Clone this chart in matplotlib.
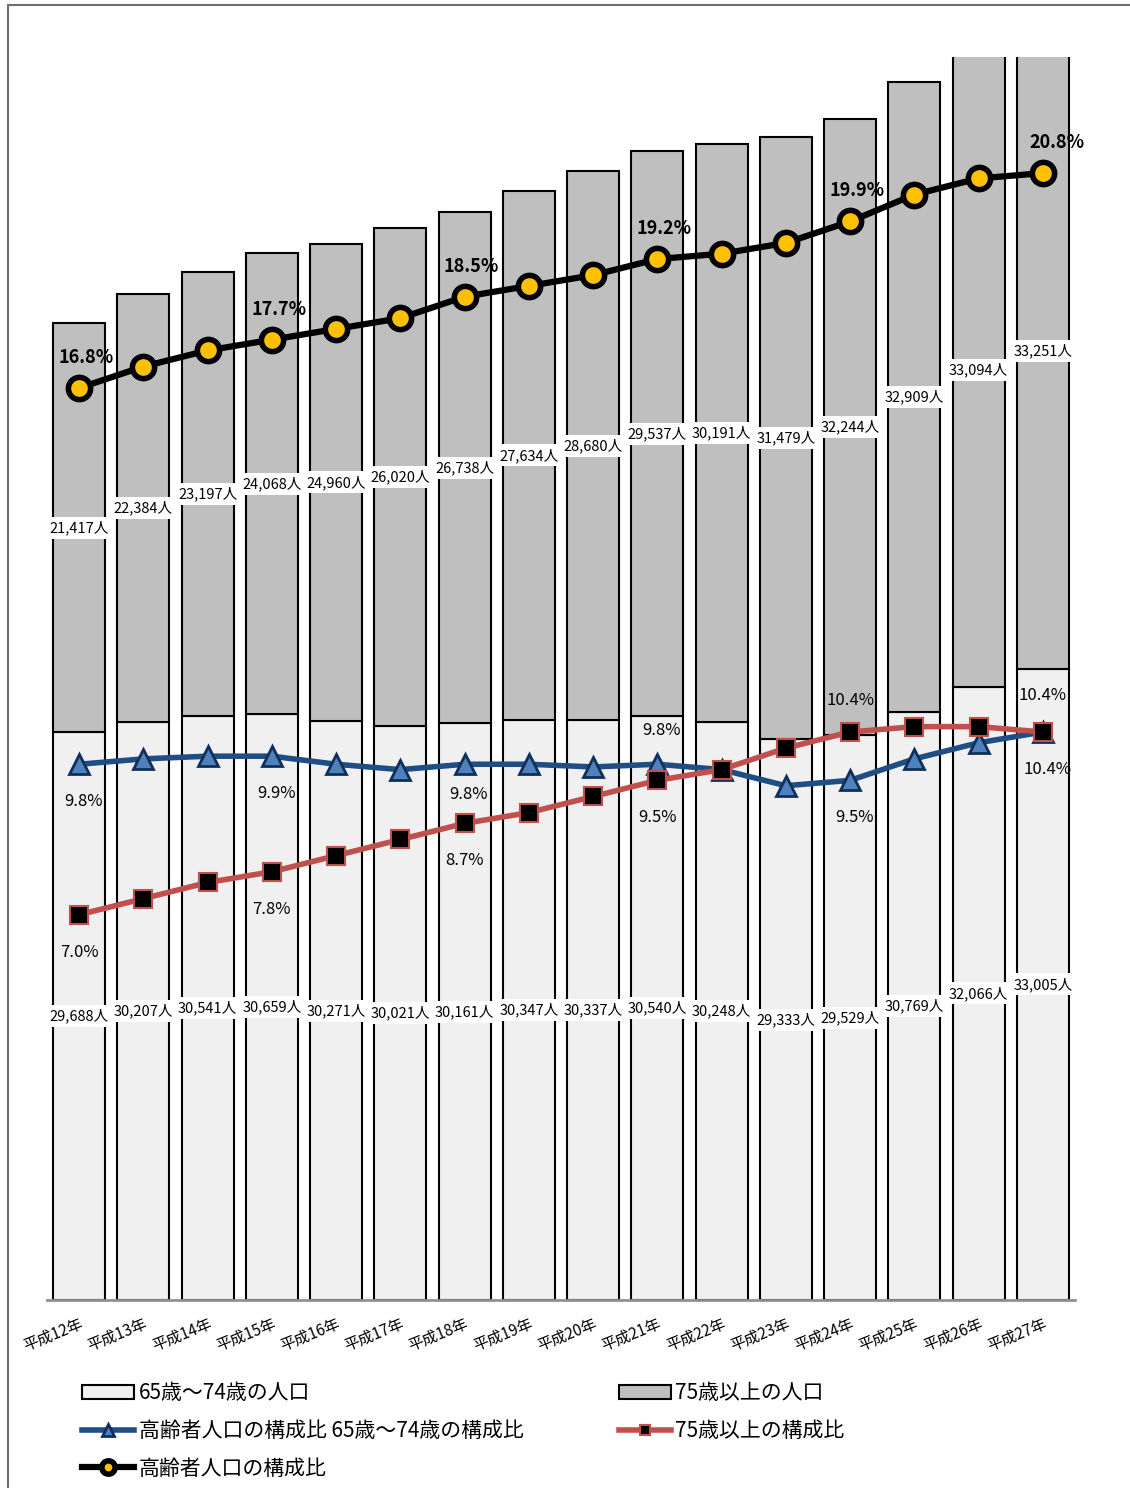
import matplotlib
matplotlib.use("Agg")
import matplotlib.pyplot as plt
from matplotlib.patches import Rectangle
import numpy as np

plt.rcParams['font.family'] = ['Noto Sans CJK JP', 'DejaVu Sans']

years = ["平成12年", "平成13年", "平成14年", "平成15年", "平成16年", "平成17年",
         "平成18年", "平成19年", "平成20年", "平成21年", "平成22年", "平成23年",
         "平成24年", "平成25年", "平成26年", "平成27年"]
pop_65_74 = [29688, 30207, 30541, 30659, 30271, 30021, 30161, 30347,
             30337, 30540, 30248, 29333, 29529, 30769, 32066, 33005]
pop_75_over = [21417, 22384, 23197, 24068, 24960, 26020, 26738, 27634,
               28680, 29537, 30191, 31479, 32244, 32909, 33094, 33251]
ratio_65_74 = [9.8, 9.9, 9.95, 9.95, 9.8, 9.7, 9.8, 9.8,
               9.75, 9.8, 9.7, 9.4, 9.5, 9.9, 10.2, 10.4]
ratio_75_over = [7.0, 7.3, 7.6, 7.8, 8.1, 8.4, 8.7, 8.9,
                 9.2, 9.5, 9.7, 10.1, 10.4, 10.5, 10.5, 10.4]
ratio_total = [16.8, 17.2, 17.5, 17.7, 17.9, 18.1, 18.5, 18.7,
               18.9, 19.2, 19.3, 19.5, 19.9, 20.4, 20.7, 20.8]

# which points get a % label: (index, text, offset in points)
lbl_total = [(0, "16.8%"), (3, "17.7%"), (6, "18.5%"), (9, "19.2%"), (12, "19.9%"), (15, "20.8%")]
lbl_65_74 = [(0, "9.8%", -27), (3, "9.9%", -27), (6, "9.8%", -22), (9, "9.8%", 24), (12, "9.5%", -27), (15, "10.4%", -27)]
lbl_75_over = [(0, "7.0%", -27), (3, "7.8%", -27), (6, "8.7%", -27), (9, "9.5%", -27), (12, "10.4%", 23), (15, "10.4%", 26)]

fig = plt.figure(figsize=(11.3, 14.88), dpi=100)
ax = fig.add_axes([0.0416, 0.1263, 0.9097, 0.8354])
x = np.arange(len(years))

b1 = ax.bar(x, pop_65_74, width=0.81, color="#F0F0F0", edgecolor="black", linewidth=1.5,
            label="65歳～74歳の人口", zorder=2)
b2 = ax.bar(x, pop_75_over, width=0.81, bottom=pop_65_74, color="#BFBFBF", edgecolor="black",
            linewidth=1.5, label="75歳以上の人口", zorder=2)
ax.set_xlim(-0.5, len(years) - 0.5)
ax.set_ylim(0, 65000)
ax.set_yticks([])
for s in ["top", "left", "right"]:
    ax.spines[s].set_visible(False)
ax.spines["bottom"].set_color("#909090")
ax.spines["bottom"].set_linewidth(2)
ax.tick_params(axis="x", length=0, pad=11)
ax.set_xticks(x)
ax.set_xticklabels(years, rotation=22, ha="right", rotation_mode="anchor", fontsize=11)

box = dict(boxstyle="square,pad=0.25", facecolor="white", edgecolor="none")
for i in range(len(years)):
    ax.text(x[i], pop_65_74[i] / 2, f"{pop_65_74[i]:,}人", ha="center", va="center",
            fontsize=10.5, bbox=box, zorder=3)
    ytop = pop_65_74[i] + pop_75_over[i] / 2
    ax.text(x[i], ytop, f"{pop_75_over[i]:,}人", ha="center", va="center",
            fontsize=10.5, bbox=box, zorder=3)

ax2 = ax.twinx()
ax2.set_ylim(-0.17, 22.96)
ax2.axis("off")
l1, = ax2.plot(x, ratio_65_74, color="#1F4E85", lw=4, marker="^", ms=14,
               mfc="#4F81BD", mec="#10305A", mew=2, label="高齢者人口の構成比 65歳～74歳の構成比", zorder=3)
l2, = ax2.plot(x, ratio_75_over, color="#C0504D", lw=4, marker="s", ms=13,
               mfc="black", mec="#C0504D", mew=1.5, label="75歳以上の構成比", zorder=4)
l3, = ax2.plot(x, ratio_total, color="black", lw=4.5, marker="o", ms=16,
               mfc="#FFC000", mec="black", mew=4, label="高齢者人口の構成比", zorder=5)

for i, t in lbl_total:
    dx = 10 if i == len(years) - 1 else 5
    ax2.annotate(t, (x[i], ratio_total[i]), xytext=(dx, 22), textcoords="offset points",
                 ha="center", va="center", fontsize=13, fontweight="bold")
for i, t, dy in lbl_65_74:
    ax2.annotate(t, (x[i], ratio_65_74[i]), xytext=(3, dy), textcoords="offset points",
                 ha="center", va="center", fontsize=12)
for i, t, dy in lbl_75_over:
    ax2.annotate(t, (x[i], ratio_75_over[i]), xytext=(0, dy), textcoords="offset points",
                 ha="center", va="center", fontsize=12)

fig.legend([b1, l1, l3, b2, l2],
           ["65歳～74歳の人口", "高齢者人口の構成比 65歳～74歳の構成比", "高齢者人口の構成比",
            "75歳以上の人口", "75歳以上の構成比"],
           loc="upper left", bbox_to_anchor=(0.0637, 0.078), ncol=2, frameon=False,
           fontsize=15, handlelength=2.5, handletextpad=0.2, columnspacing=4.6,
           labelspacing=0.75, markerscale=0.6, borderpad=0)

# outer frame
fig.add_artist(Rectangle((8 / 1130, -0.1), 1.2, 1 + 0.1 - 5 / 1488, transform=fig.transFigure,
                         fill=False, edgecolor="#707070", linewidth=1.5))

fig.savefig("out.png", dpi=100)
